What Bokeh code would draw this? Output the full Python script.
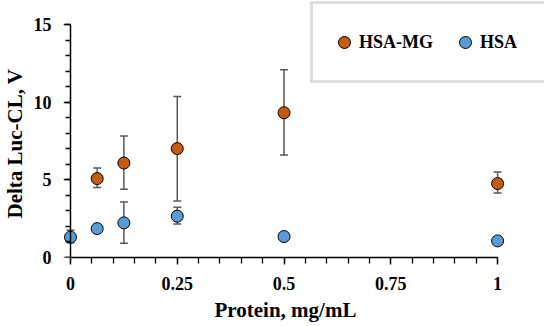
from bokeh.plotting import figure
from bokeh.models import (ColumnDataSource, Whisker, TeeHead, Range1d, LinearAxis,
                          FixedTicker, Legend, LegendItem, Title)
from bokeh.embed import file_html
from bokeh.resources import INLINE

# ---- data ----
mg_x = [0.0625, 0.125, 0.25, 0.5, 1.0]
mg_y = [5.08, 6.08, 7.01, 9.32, 4.76]
mg_lo = [4.50, 4.39, 3.64, 6.60, 4.15]
mg_hi = [5.76, 7.82, 10.37, 12.09, 5.50]

hsa_x = [0.0, 0.0625, 0.125, 0.25, 0.5, 1.0]
hsa_y = [1.31, 1.86, 2.23, 2.66, 1.35, 1.07]
hsa_err_x = [0.0, 0.125, 0.25]
hsa_err_lo = [0.95, 0.92, 2.16]
hsa_err_hi = [1.76, 3.58, 3.23]

x_ticks = [0, 0.25, 0.5, 0.75, 1]
x_tick_labels = ["0", "0.25", "0.5", "0.75", "1"]
x_minor = [i / 20 for i in range(21)]
y_ticks = [0, 5, 10, 15]
y_minor = list(range(16))

series_names = ["HSA-MG", "HSA"]
x_title = "Protein, mg/mL"
y_title = "Delta Luc-CL, V"

ORANGE = "#C55A11"
BLUE = "#5B9BD5"
FONT = "Liberation Serif"

p = figure(width=550, height=326, output_backend="svg", toolbar_location=None,
           x_range=Range1d(-0.01636, 1.1098), y_range=Range1d(0, 16.545),
           x_axis_location=None, y_axis_location=None,
           min_border_left=62, min_border_right=6, min_border_top=0,
           min_border_bottom=69)
p.outline_line_color = None
p.xgrid.visible = False
p.ygrid.visible = False

def style_axis(ax):
    ax.axis_line_color = "black"
    ax.axis_line_width = 1.5
    ax.major_tick_line_color = "black"
    ax.minor_tick_line_color = "black"
    ax.major_tick_line_width = 1.3
    ax.minor_tick_line_width = 1.3
    ax.major_tick_in = 0
    ax.minor_tick_in = 0
    ax.major_label_text_font = FONT
    ax.major_label_text_font_style = "bold"
    ax.major_label_text_font_size = "18px"
    ax.major_label_text_color = "black"

# x axis: regular below axis (y range starts at 0), line limited to 0..1
xaxis = LinearAxis(bounds=(0, 1),
                   ticker=FixedTicker(ticks=x_ticks, minor_ticks=x_minor))
style_axis(xaxis)
xaxis.major_tick_out = 7
xaxis.minor_tick_out = 6
xaxis.major_label_standoff = 12
xaxis.major_label_overrides = {t: l for t, l in zip(x_ticks, x_tick_labels)}
p.add_layout(xaxis, "below")

# x axis title, placed under the 0..1 axis span
p.add_layout(Title(text=x_title, align="left", offset=151, standoff=6,
                   vertical_align="bottom", text_font=FONT, text_font_style="bold",
                   text_font_size="21px", text_color="black"), "below")

# y axis line + ticks at x = 0
yline = LinearAxis(fixed_location=0, bounds=(0, 15),
                   ticker=FixedTicker(ticks=y_ticks, minor_ticks=y_minor))
style_axis(yline)
yline.major_tick_out = 7
yline.minor_tick_out = 5
yline.major_label_text_alpha = 0
p.add_layout(yline, "left")

# y tick labels in the left panel
ylab = LinearAxis(ticker=FixedTicker(ticks=y_ticks, minor_ticks=[]))
style_axis(ylab)
ylab.axis_line_color = None
ylab.major_tick_line_color = None
ylab.minor_tick_line_color = None
ylab.major_tick_out = 0
ylab.minor_tick_out = 0
ylab.major_label_standoff = 12
p.add_layout(ylab, "left")

# y axis title, centred on the 0..15 axis span
p.add_layout(Title(text=y_title, align="left", offset=39, standoff=4,
                   vertical_align="top", text_font=FONT, text_font_style="bold",
                   text_font_size="21px", text_color="black"), "left")

mg_src = ColumnDataSource(dict(x=mg_x, y=mg_y, lo=mg_lo, hi=mg_hi))
hsa_src = ColumnDataSource(dict(x=hsa_x, y=hsa_y))
hsa_err_src = ColumnDataSource(dict(x=hsa_err_x, lo=hsa_err_lo, hi=hsa_err_hi))

for src in (mg_src, hsa_err_src):
    w = Whisker(base="x", lower="lo", upper="hi", source=src,
                line_color="#595959", line_width=1.5,
                upper_head=TeeHead(size=8, line_color="#595959", line_width=1.5),
                lower_head=TeeHead(size=8, line_color="#595959", line_width=1.5))
    p.add_layout(w)

r_mg = p.scatter("x", "y", source=mg_src, size=12, fill_color=ORANGE,
                 line_color="black", line_width=1)
r_hsa = p.scatter("x", "y", source=hsa_src, size=12, fill_color=BLUE,
                  line_color="black", line_width=1)

legend = Legend(items=[LegendItem(label=series_names[0], renderers=[r_mg]),
                       LegendItem(label=series_names[1], renderers=[r_hsa])],
                orientation="horizontal", location=(247, 174))
legend.label_text_font = FONT
legend.label_text_font_style = "bold"
legend.label_text_font_size = "18px"
legend.label_text_color = "black"
legend.border_line_color = "#BFBFBF"
legend.border_line_width = 3
legend.background_fill_color = "white"
legend.background_fill_alpha = 1
legend.padding = 16
legend.glyph_width = 30
legend.glyph_height = 44
legend.label_standoff = 0
legend.label_width = 49
legend.spacing = 17
legend.margin = 0
p.add_layout(legend)

open("out.html", "w").write(file_html(p, INLINE))
